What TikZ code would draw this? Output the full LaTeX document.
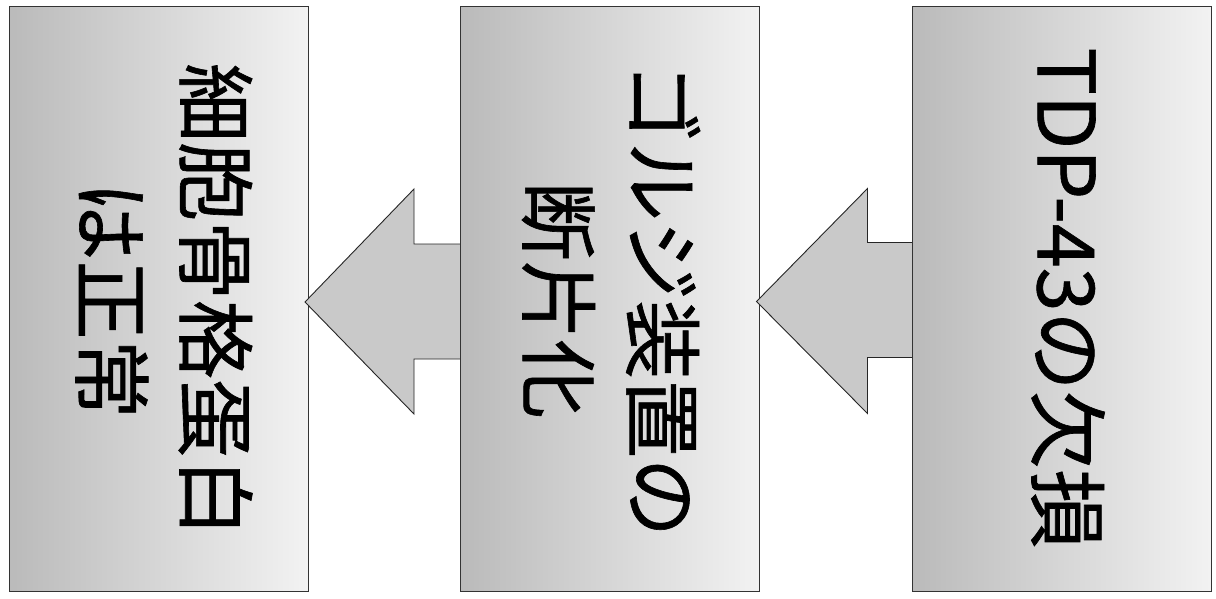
\documentclass[tikz,border=0pt]{standalone}
\usepackage{fontspec}
\newfontfamily\jpfont[FakeBold=0.8]{Noto Sans CJK JP}
\usetikzlibrary{calc}
\tikzset{
  boxnode/.style={draw=black!80, line width=0.8pt, left color=black!27, right color=black!5,
    minimum width=299pt, minimum height=585pt, inner sep=0pt, outer sep=0pt},
  txt/.style={rotate=-90, align=center, inner sep=0pt, font=\jpfont\fontsize{79}{104}\selectfont},
  arrowshape/.style={draw=black!85, line width=0.9pt, fill=black!21, line join=miter}
}
\begin{document}
\begin{tikzpicture}[x=1pt,y=-1pt]
\useasboundingbox[fill=white] (0,0) rectangle (1216,598);
% box 1
\node[boxnode] (b1) at (158.5,299) {};
\node[txt] (t1) at (164,300) {細胞骨格蛋白\\は正常};
\coordinate (a1tip) at ($(b1.east)+(-3,3)$);
% box 2 position
\path (610,298.5) coordinate (b2c);
\draw[arrowshape] (a1tip) -- ++(109,-113) -- ++(0,55) -- ++(80,0) -- ++(0,115) -- ++(-80,0) -- ++(0,55) -- cycle;
\node[boxnode] (b2) at (b2c) {};
\node[txt] (t2) at (611,300) {ゴルジ装置の\\断片化};
\coordinate (a2tip) at ($(b2.east)+(-3,3)$);
\draw[arrowshape] (a2tip) -- ++(111,-113) -- ++(0,54) -- ++(80,0) -- ++(0,115) -- ++(-80,0) -- ++(0,56) -- cycle;
% box 3
\node[boxnode] (b3) at (1061.5,298.5) {};
\node[txt] (t3) at (1068,298) {TDP-43の欠損};
\end{tikzpicture}
\end{document}
